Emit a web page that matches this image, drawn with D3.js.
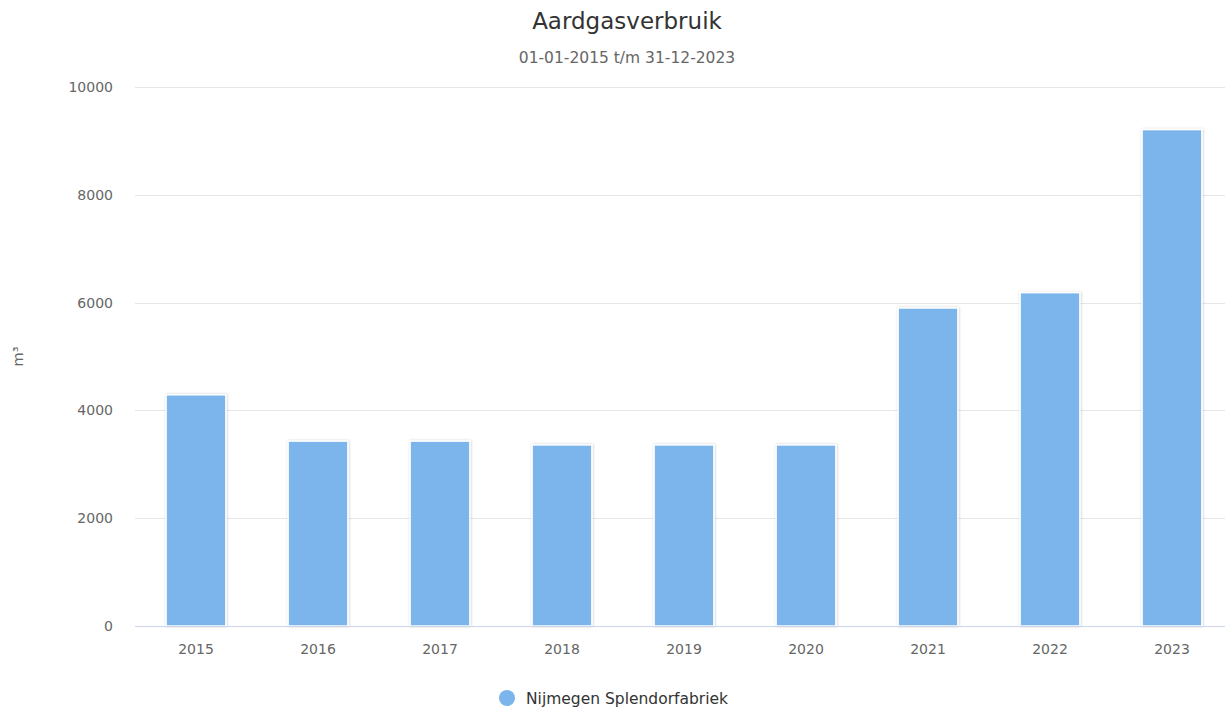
<!DOCTYPE html>
<html>
<head>
<meta charset="utf-8">
<script src="https://cdn.jsdelivr.net/npm/d3@7/dist/d3.min.js"></script>
<style>
  html, body { margin: 0; padding: 0; background: #fff; }
  svg { display: block; font-family: "DejaVu Sans", Verdana, sans-serif; }
</style>
</head>
<body>
<svg id="chart" width="1225" height="709"></svg>
<script>
const categories = ["2015", "2016", "2017", "2018", "2019", "2020", "2021", "2022", "2023"];
const values = [4290, 3430, 3430, 3360, 3360, 3360, 5900, 6185, 9210];
const yTicks = [0, 2000, 4000, 6000, 8000, 10000];
const seriesName = "Nijmegen Splendorfabriek";
const titleText = "Aardgasverbruik";
const subtitleText = "01-01-2015 t/m 31-12-2023";
const yAxisTitle = "m³";

const svg = d3.select("#chart");
const plot = { left: 135, right: 1225, bandEnd: 1233, top: 87, bottom: 626 };

const defs = svg.append("defs");
const f = defs.append("filter").attr("id", "shadow")
  .attr("x", "-20%").attr("y", "-5%").attr("width", "140%").attr("height", "110%");
f.append("feDropShadow").attr("dx", 0.5).attr("dy", 0).attr("stdDeviation", 1.1)
  .attr("flood-color", "#000").attr("flood-opacity", 0.22);

const x = d3.scaleBand().domain(categories).range([plot.left, plot.bandEnd]).padding(0);
const y = d3.scaleLinear().domain([0, 10000]).range([plot.bottom, plot.top]);

// grid
svg.append("g").selectAll("line").data(yTicks.filter(d => d !== 0)).join("line")
  .attr("x1", plot.left).attr("x2", plot.right)
  .attr("y1", d => Math.round(y(d)) + 0.5).attr("y2", d => Math.round(y(d)) + 0.5)
  .attr("stroke", "#e6e6e6").attr("stroke-width", 1);

// y labels
svg.append("g").selectAll("text").data(yTicks).join("text")
  .attr("x", 113).attr("y", d => y(d) + 5)
  .attr("text-anchor", "end").attr("font-size", 14).attr("fill", "#666")
  .text(d => d);

// y axis title
svg.append("text")
  .attr("transform", `translate(23,${(plot.top + plot.bottom) / 2}) rotate(-90)`)
  .attr("text-anchor", "middle").attr("font-size", 14.5).attr("fill", "#666")
  .text(yAxisTitle);

// bars
const bw = x.bandwidth() * 0.49;
svg.append("g").selectAll("rect").data(values).join("rect")
  .attr("x", (d, i) => x(categories[i]) + (x.bandwidth() - bw) / 2)
  .attr("y", d => y(d))
  .attr("width", bw)
  .attr("height", d => y(0) - y(d))
  .attr("fill", "#7cb5ec")
  .attr("stroke", "#ffffff").attr("stroke-width", 1.5)
  .attr("filter", "url(#shadow)");

// x axis line
svg.append("line")
  .attr("x1", plot.left).attr("x2", plot.right)
  .attr("y1", plot.bottom + 0.5).attr("y2", plot.bottom + 0.5)
  .attr("stroke", "#ccd6eb").attr("stroke-width", 1);

// x labels
svg.append("g").selectAll("text").data(categories).join("text")
  .attr("x", d => x(d) + x.bandwidth() / 2).attr("y", 654)
  .attr("text-anchor", "middle").attr("font-size", 14).attr("fill", "#666")
  .text(d => d);

// title
svg.append("text").attr("x", 627).attr("y", 29).attr("text-anchor", "middle")
  .attr("font-size", 23).attr("fill", "#333").text(titleText);
svg.append("text").attr("x", 627).attr("y", 63).attr("text-anchor", "middle")
  .attr("font-size", 15.5).attr("fill", "#666").text(subtitleText);

// legend
const lg = svg.append("g");
lg.append("circle").attr("cx", 507).attr("cy", 698).attr("r", 8).attr("fill", "#7cb5ec");
lg.append("text").attr("x", 526).attr("y", 704).attr("font-size", 15.5).attr("fill", "#333")
  .text(seriesName);
</script>
</body>
</html>
